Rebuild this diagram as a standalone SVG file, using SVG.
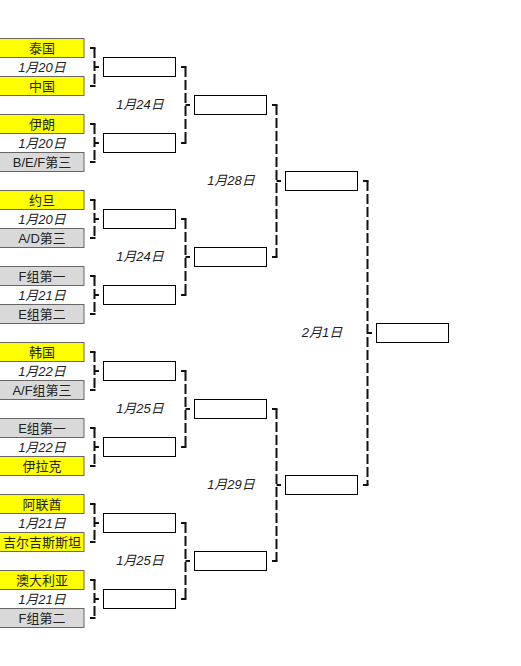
<svg xmlns="http://www.w3.org/2000/svg" width="521" height="666" viewBox="0 0 521 666">
<style>
text{font-family:"Liberation Sans","Noto Sans CJK SC",sans-serif;font-size:13px;fill:#222;text-anchor:middle;dominant-baseline:central}
.d{font-style:italic}
.y{fill:#ffff00;stroke:#666;stroke-width:1}
.g{fill:#d9d9d9;stroke:#666;stroke-width:1}
.r{fill:#fff;stroke:#000;stroke-width:1}
.v{stroke:#111;stroke-width:2;fill:none;stroke-dasharray:10 3}
.t{stroke:#111;stroke-width:2;fill:none}
</style>
<rect width="521" height="666" fill="#fff"/>
<g id="connectors">
<path class="v" d="M94.5 48V86M94.5 124V162M94.5 200V238M94.5 276V314M94.5 352V390M94.5 428V466M94.5 504V542M94.5 580V618"/>
<path class="t" d="M90 48H95.5M90 86H95.5M94.5 67H99M90 124H95.5M90 162H95.5M94.5 143H99M90 200H95.5M90 238H95.5M94.5 219H99M90 276H95.5M90 314H95.5M94.5 295H99M90 352H95.5M90 390H95.5M94.5 371H99M90 428H95.5M90 466H95.5M94.5 447H99M90 504H95.5M90 542H95.5M94.5 523H99M90 580H95.5M90 618H95.5M94.5 599H99"/>
<path class="v" d="M185.5 67V143M185.5 219V295M185.5 371V447M185.5 523V599"/>
<path class="t" d="M181 67H186.5M181 143H186.5M185.5 105H190M181 219H186.5M181 295H186.5M185.5 257H190M181 371H186.5M181 447H186.5M185.5 409H190M181 523H186.5M181 599H186.5M185.5 561H190"/>
<path class="v" d="M276.5 105V257M276.5 409V561"/>
<path class="t" d="M272 105H277.5M272 257H277.5M276.5 181H281M272 409H277.5M272 561H277.5M276.5 485H281"/>
<path class="v" d="M367.5 181V485"/>
<path class="t" d="M363 181H368.5M363 485H368.5M367.5 333H372"/>
</g>
<g id="m1"><rect class="y" x="-1" y="38.5" width="85" height="19"/><text x="42" y="48">泰国</text><text class="d" x="42" y="67">1月20日</text><rect class="y" x="-1" y="76.5" width="85" height="19"/><text x="42" y="86">中国</text></g>
<g id="m2"><rect class="y" x="-1" y="114.5" width="85" height="19"/><text x="42" y="124">伊朗</text><text class="d" x="42" y="143">1月20日</text><rect class="g" x="-1" y="152.5" width="85" height="19"/><text x="42" y="162">B/E/F第三</text></g>
<g id="m3"><rect class="y" x="-1" y="190.5" width="85" height="19"/><text x="42" y="200">约旦</text><text class="d" x="42" y="219">1月20日</text><rect class="g" x="-1" y="228.5" width="85" height="19"/><text x="42" y="238">A/D第三</text></g>
<g id="m4"><rect class="g" x="-1" y="266.5" width="85" height="19"/><text x="42" y="276">F组第一</text><text class="d" x="42" y="295">1月21日</text><rect class="g" x="-1" y="304.5" width="85" height="19"/><text x="42" y="314">E组第二</text></g>
<g id="m5"><rect class="y" x="-1" y="342.5" width="85" height="19"/><text x="42" y="352">韩国</text><text class="d" x="42" y="371">1月22日</text><rect class="g" x="-1" y="380.5" width="85" height="19"/><text x="42" y="390">A/F组第三</text></g>
<g id="m6"><rect class="g" x="-1" y="418.5" width="85" height="19"/><text x="42" y="428">E组第一</text><text class="d" x="42" y="447">1月22日</text><rect class="y" x="-1" y="456.5" width="85" height="19"/><text x="42" y="466">伊拉克</text></g>
<g id="m7"><rect class="y" x="-1" y="494.5" width="85" height="19"/><text x="42" y="504">阿联酋</text><text class="d" x="42" y="523">1月21日</text><rect class="y" x="-1" y="532.5" width="85" height="19"/><text x="42" y="542">吉尔吉斯斯坦</text></g>
<g id="m8"><rect class="y" x="-1" y="570.5" width="85" height="19"/><text x="42" y="580">澳大利亚</text><text class="d" x="42" y="599">1月21日</text><rect class="g" x="-1" y="608.5" width="85" height="19"/><text x="42" y="618">F组第二</text></g>
<g id="r1">
<rect class="r" x="103.5" y="57.5" width="72" height="19"/><rect class="r" x="103.5" y="133.5" width="72" height="19"/><rect class="r" x="103.5" y="209.5" width="72" height="19"/><rect class="r" x="103.5" y="285.5" width="72" height="19"/><rect class="r" x="103.5" y="361.5" width="72" height="19"/><rect class="r" x="103.5" y="437.5" width="72" height="19"/><rect class="r" x="103.5" y="513.5" width="72" height="19"/><rect class="r" x="103.5" y="589.5" width="72" height="19"/>
</g>
<g id="r2">
<text class="d" x="140" y="104">1月24日</text><text class="d" x="140" y="256">1月24日</text><text class="d" x="140" y="408">1月25日</text><text class="d" x="140" y="560">1月25日</text>
<rect class="r" x="194.5" y="95.5" width="72" height="19"/><rect class="r" x="194.5" y="247.5" width="72" height="19"/><rect class="r" x="194.5" y="399.5" width="72" height="19"/><rect class="r" x="194.5" y="551.5" width="72" height="19"/>
</g>
<g id="r3">
<text class="d" x="231" y="180">1月28日</text><text class="d" x="231" y="484">1月29日</text>
<rect class="r" x="285.5" y="171.5" width="72" height="19"/><rect class="r" x="285.5" y="475.5" width="72" height="19"/>
</g>
<g id="final">
<text class="d" x="322" y="332">2月1日</text>
<rect class="r" x="376.5" y="323.5" width="72" height="19"/>
</g>
</svg>
